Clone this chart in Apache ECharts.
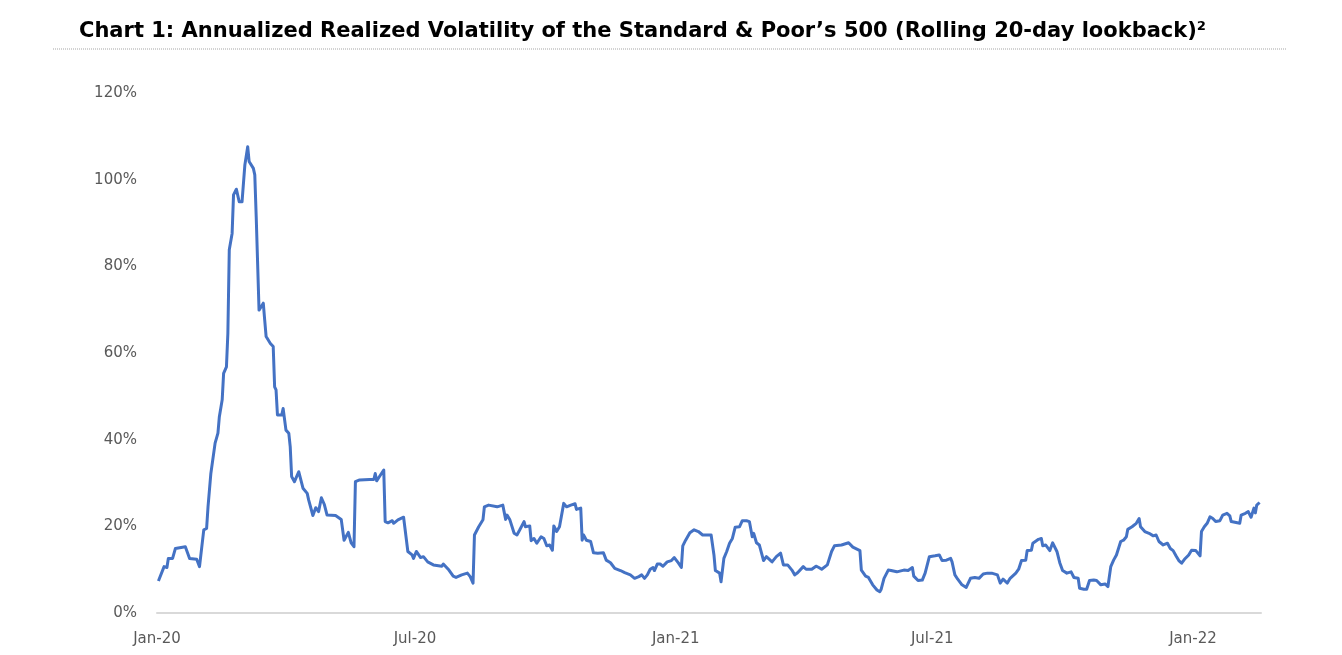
<!DOCTYPE html>
<html>
<head>
<meta charset="utf-8">
<title>Annualized Realized Volatility of the S&amp;P 500</title>
<script src="https://cdn.jsdelivr.net/npm/echarts@6/dist/echarts.min.js"></script>
<style>
  html, body { margin: 0; padding: 0; background: #fff; }
  #chart { width: 1342px; height: 655px; }
</style>
</head>
<body>
<div id="chart"></div>
<script>
// rolling 20-day realized vol (percent)
var dates = [
  '2020-01-02','2020-01-03','2020-01-06','2020-01-08','2020-01-09','2020-01-12','2020-01-14','2020-01-21','2020-01-22','2020-01-24',
  '2020-01-29','2020-01-31','2020-02-03','2020-02-05','2020-02-06','2020-02-08','2020-02-11','2020-02-13','2020-02-14','2020-02-16',
  '2020-02-17','2020-02-19','2020-02-20','2020-02-21','2020-02-23','2020-02-24','2020-02-26','2020-02-28','2020-03-01','2020-03-03',
  '2020-03-05','2020-03-06','2020-03-09','2020-03-10','2020-03-11','2020-03-13','2020-03-14','2020-03-16','2020-03-17','2020-03-18',
  '2020-03-21','2020-03-23','2020-03-24','2020-03-25','2020-03-26','2020-03-29','2020-03-30','2020-04-01','2020-04-03','2020-04-04',
  '2020-04-05','2020-04-07','2020-04-10','2020-04-13','2020-04-16','2020-04-17','2020-04-20','2020-04-22','2020-04-24','2020-04-26',
  '2020-04-28','2020-04-30','2020-05-06','2020-05-10','2020-05-12','2020-05-15','2020-05-17','2020-05-19','2020-05-20','2020-05-23',
  '2020-05-30','2020-06-02','2020-06-03','2020-06-04','2020-06-06','2020-06-09','2020-06-10','2020-06-12','2020-06-15','2020-06-16',
  '2020-06-19','2020-06-23','2020-06-26','2020-06-29','2020-06-30','2020-07-02','2020-07-05','2020-07-07','2020-07-10','2020-07-14',
  '2020-07-20','2020-07-21','2020-07-25','2020-07-28','2020-07-30','2020-08-03','2020-08-07','2020-08-09','2020-08-11','2020-08-12',
  '2020-08-15','2020-08-18','2020-08-19','2020-08-22','2020-08-28','2020-09-01','2020-09-03','2020-09-04','2020-09-06','2020-09-09',
  '2020-09-11','2020-09-13','2020-09-16','2020-09-17','2020-09-20','2020-09-21','2020-09-23','2020-09-25','2020-09-28','2020-09-30',
  '2020-10-02','2020-10-04','2020-10-06','2020-10-07','2020-10-09','2020-10-11','2020-10-14','2020-10-16','2020-10-19','2020-10-22',
  '2020-10-23','2020-10-26','2020-10-27','2020-10-28','2020-10-30','2020-11-02','2020-11-04','2020-11-07','2020-11-11','2020-11-13',
  '2020-11-16','2020-11-19','2020-11-23','2020-11-26','2020-11-30','2020-12-03','2020-12-06','2020-12-08','2020-12-10','2020-12-12',
  '2020-12-14','2020-12-16','2020-12-17','2020-12-19','2020-12-21','2020-12-23','2020-12-26','2020-12-29','2020-12-31','2021-01-03',
  '2021-01-05','2021-01-06','2021-01-08','2021-01-11','2021-01-14','2021-01-17','2021-01-20','2021-01-26','2021-01-28','2021-01-29',
  '2021-02-01','2021-02-02','2021-02-04','2021-02-06','2021-02-08','2021-02-10','2021-02-12','2021-02-15','2021-02-17','2021-02-20',
  '2021-02-22','2021-02-24','2021-02-25','2021-02-27','2021-03-01','2021-03-04','2021-03-06','2021-03-10','2021-03-13','2021-03-16',
  '2021-03-17','2021-03-18','2021-03-21','2021-03-24','2021-03-26','2021-03-28','2021-04-01','2021-04-03','2021-04-07','2021-04-10',
  '2021-04-12','2021-04-14','2021-04-18','2021-04-19','2021-04-21','2021-04-23','2021-04-28','2021-05-03','2021-05-06','2021-05-11',
  '2021-05-12','2021-05-15','2021-05-17','2021-05-20','2021-05-23','2021-05-25','2021-05-26','2021-05-28','2021-05-31','2021-06-02',
  '2021-06-06','2021-06-11','2021-06-14','2021-06-17','2021-06-18','2021-06-21','2021-06-24','2021-06-26','2021-06-29','2021-07-03',
  '2021-07-06','2021-07-08','2021-07-11','2021-07-14','2021-07-15','2021-07-17','2021-07-19','2021-07-22','2021-07-25','2021-07-28',
  '2021-07-31','2021-08-03','2021-08-04','2021-08-06','2021-08-09','2021-08-12','2021-08-16','2021-08-17','2021-08-18','2021-08-20',
  '2021-08-23','2021-08-25','2021-08-29','2021-08-31','2021-09-02','2021-09-05','2021-09-06','2021-09-09','2021-09-10','2021-09-14',
  '2021-09-16','2021-09-17','2021-09-19','2021-09-22','2021-09-24','2021-09-27','2021-09-29','2021-10-01','2021-10-04','2021-10-07',
  '2021-10-09','2021-10-12','2021-10-13','2021-10-16','2021-10-18','2021-10-20','2021-10-23','2021-10-25','2021-10-28','2021-10-31',
  '2021-11-02','2021-11-04','2021-11-06','2021-11-08','2021-11-11','2021-11-13','2021-11-15','2021-11-16','2021-11-19','2021-11-22',
  '2021-11-24','2021-11-25','2021-11-28','2021-12-01','2021-12-04','2021-12-06','2021-12-08','2021-12-11','2021-12-14','2021-12-16',
  '2021-12-18','2021-12-20','2021-12-22','2021-12-24','2021-12-26','2021-12-29','2021-12-31','2022-01-03','2022-01-06','2022-01-07',
  '2022-01-09','2022-01-11','2022-01-13','2022-01-15','2022-01-17','2022-01-20','2022-01-22','2022-01-25','2022-01-27','2022-01-28',
  '2022-02-03','2022-02-04','2022-02-07','2022-02-09','2022-02-11','2022-02-13','2022-02-14','2022-02-15','2022-02-17'
];

var vol = [
  7.4, 7.0, 10.7, 10.5, 12.6, 12.6, 14.9, 15.3, 15.2, 12.6,
  12.4, 10.7, 19.2, 19.5, 24.5, 32.2, 39.2, 41.5, 45.3, 49.2,
  55.3, 56.8, 64.5, 83.8, 87.6, 96.5, 97.8, 94.9, 94.9, 103.4,
  107.6, 104.2, 102.6, 101.1, 91.5, 69.9, 70.3, 71.5, 67.6, 63.8,
  62.2, 61.5, 52.2, 51.5, 45.7, 45.7, 47.2, 42.2, 41.5, 38.4,
  31.5, 30.3, 32.6, 28.8, 27.6, 26.1, 22.5, 24.3, 23.4, 26.6,
  25.1, 22.6, 22.5, 21.6, 16.8, 18.6, 16.2, 15.3, 30.3, 30.7,
  30.8, 30.8, 32.2, 30.5, 31.5, 33.0, 21.1, 20.8, 21.3, 20.7,
  21.5, 22.1, 14.2, 13.4, 12.6, 14.2, 12.8, 13.0, 11.8, 11.1,
  10.8, 11.3, 9.9, 8.5, 8.2, 8.8, 9.2, 8.4, 6.9, 18.0,
  19.9, 21.5, 24.5, 24.9, 24.5, 24.9, 21.6, 22.6, 21.5, 18.4,
  18.0, 19.2, 21.1, 19.9, 20.1, 16.7, 17.2, 16.1, 17.6, 17.2,
  15.5, 15.7, 14.5, 20.1, 18.8, 19.9, 25.3, 24.5, 24.9, 25.2,
  23.9, 24.2, 16.8, 18.0, 16.8, 16.5, 13.9, 13.8, 13.9, 12.2,
  11.6, 10.3, 9.8, 9.3, 8.8, 8.0, 8.4, 8.8, 8.0, 8.8,
  10.1, 10.5, 9.8, 11.3, 11.3, 10.8, 11.8, 12.1, 12.8, 11.5,
  10.5, 15.5, 16.8, 18.5, 19.2, 18.8, 18.0, 18.0, 13.4, 9.8,
  9.2, 7.2, 12.6, 14.2, 16.1, 17.2, 19.8, 19.9, 21.3, 21.3,
  21.1, 17.6, 18.4, 16.2, 15.7, 12.1, 13.0, 11.8, 13.0, 13.8,
  13.6, 11.1, 11.1, 9.9, 8.8, 9.3, 10.7, 10.1, 10.1, 10.8,
  10.5, 10.1, 11.1, 11.1, 14.2, 15.5, 15.7, 16.2, 15.2, 14.4,
  9.9, 8.5, 8.2, 6.5, 5.3, 4.9, 5.5, 8.0, 9.9, 9.8,
  9.5, 9.9, 9.8, 10.5, 8.5, 7.5, 7.6, 9.2, 13.0, 13.2,
  13.4, 12.1, 12.2, 12.6, 11.8, 8.8, 7.8, 6.5, 5.9, 8.0,
  8.2, 8.0, 7.6, 9.0, 9.2, 9.2, 8.8, 8.4, 6.9, 7.8,
  6.9, 8.0, 9.2, 10.1, 12.1, 12.2, 14.4, 14.5, 16.1, 17.0,
  17.2, 15.5, 15.7, 14.4, 16.2, 14.2, 11.6, 9.8, 9.2, 9.5,
  8.2, 8.0, 5.7, 5.5, 5.5, 7.5, 7.6, 7.5, 6.5, 6.7,
  6.1, 10.7, 12.2, 13.4, 16.5, 16.8, 17.6, 19.3, 19.9, 20.7,
  21.8, 19.9, 18.8, 18.4, 17.8, 18.0, 16.5, 15.7, 16.1, 14.9,
  14.4, 13.2, 12.1, 11.5, 12.4, 13.4, 14.5, 14.4, 13.2, 18.8,
  19.9, 20.7, 22.2, 21.8, 21.1, 21.3, 22.6, 23.0, 22.4, 21.1,
  20.7, 22.6, 23.0, 23.4, 22.1, 24.2, 23.1, 24.9, 25.5
];

var tickDates = ['2020-01-01', '2020-07-01', '2021-01-01', '2021-07-01', '2022-01-01'];
var yTicks = [0, 20, 40, 60, 80, 100, 120];

var monthNames = ['Jan', 'Feb', 'Mar', 'Apr', 'May', 'Jun', 'Jul', 'Aug', 'Sep', 'Oct', 'Nov', 'Dec'];

function toTime(s) {
  var p = s.split('-');
  return new Date(+p[0], +p[1] - 1, +p[2]).getTime();
}

var seriesData = dates.map(function (d, i) {
  return [toTime(d), vol[i]];
});

var chart = echarts.init(document.getElementById('chart'));

chart.setOption({
  animation: false,
  backgroundColor: '#fff',
  title: {
    text: 'Chart 1: Annualized Realized Volatility of the Standard & Poor\u2019s 500 (Rolling 20-day lookback)\u00b2',
    left: 74,
    top: 16,
    textStyle: {
      fontFamily: 'DejaVu Sans',
      fontWeight: 'bold',
      fontSize: 21,
      color: '#000'
    }
  },
  graphic: [
    {
      // dotted rule under the title
      type: 'line',
      shape: { x1: 53, y1: 49, x2: 1287, y2: 49 },
      style: { stroke: '#a6a6a6', lineWidth: 1, lineDash: [1, 1] }
    }
  ],
  grid: {
    left: 157,
    right: 81,
    top: 93,
    bottom: 42,
    containLabel: false
  },
  xAxis: {
    // plain value axis holding timestamps, so the Jan/Jul labels can be placed exactly
    type: 'value',
    min: toTime('2020-01-01'),
    max: toTime('2022-02-18'),
    axisLine: {
      show: true,
      lineStyle: { color: '#d9d9d9', width: 2 }
    },
    axisTick: { show: false },
    splitLine: { show: false },
    axisLabel: {
      customValues: tickDates.map(toTime),
      margin: 19,
      fontFamily: 'DejaVu Sans',
      fontSize: 15,
      color: '#595959',
      formatter: function (v) {
        var d = new Date(v);
        return monthNames[d.getMonth()] + '-' + String(d.getFullYear()).slice(2);
      }
    }
  },
  yAxis: {
    type: 'value',
    min: yTicks[0],
    max: yTicks[yTicks.length - 1],
    interval: 20,
    axisLine: { show: false },
    axisTick: { show: false },
    splitLine: { show: false },
    axisLabel: {
      margin: 20,
      fontFamily: 'DejaVu Sans',
      fontSize: 15,
      color: '#595959',
      formatter: '{value}%'
    }
  },
  series: [
    {
      type: 'line',
      data: seriesData,
      showSymbol: false,
      lineStyle: { color: '#4472C4', width: 3, join: 'round' },
      itemStyle: { color: '#4472C4' }
    }
  ]
});
</script>
</body>
</html>
